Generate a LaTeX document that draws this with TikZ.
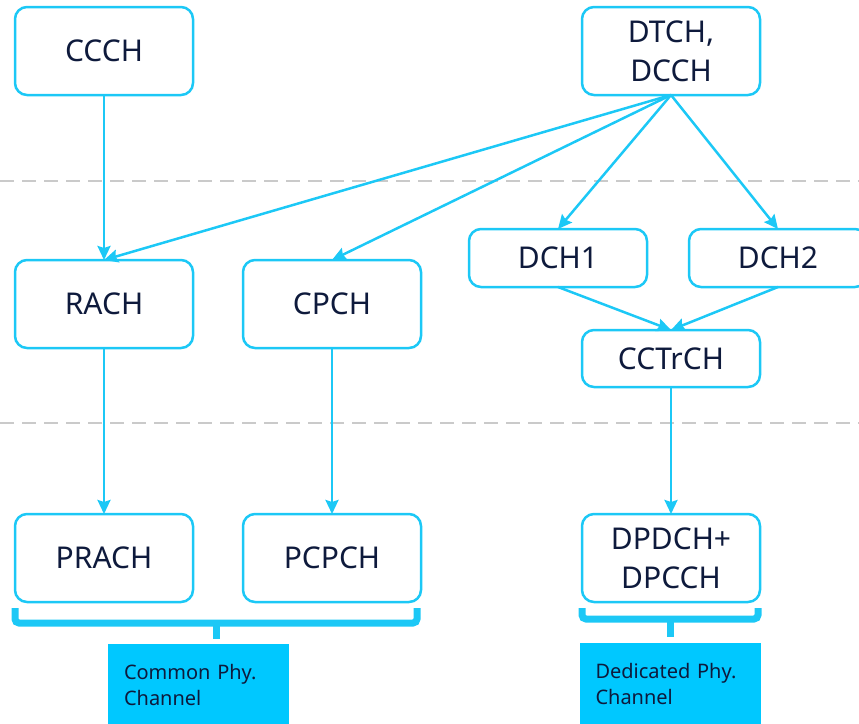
\documentclass[tikz,border=0pt]{standalone}
\usepackage{fontspec}
\setmainfont{Noto Sans}
\usepackage{tikz}
\usetikzlibrary{ arrows.meta, calc, positioning }
\definecolor{chanblue}{HTML}{1CC8F6}
\definecolor{tagblue}{HTML}{00C8FF}
\definecolor{inkblue}{HTML}{0E1A3C}
\definecolor{rulegray}{HTML}{CACACA}
\tikzset{
>={Stealth[length=14pt,width=13pt,inset=2pt]}, % makes the arrow heads bold
chan/.style={draw=chanblue, line width=2.5pt, rounded corners=12pt, minimum width=178pt, minimum height=88pt,
  outer sep=0pt, text=inkblue, font=\fontsize{30}{39}\selectfont, align=center, inner sep=1pt}, % channel boxes
thin chan/.style={chan, minimum height=58pt},
link/.style={->, color=chanblue, line width=2.5pt}, % mapping arrows
bracket/.style={draw=chanblue, line width=7pt, rounded corners=4pt},
tag/.style={fill=tagblue, text=inkblue, font=\fontsize{20}{26}\selectfont, align=left, text width=149pt,
  inner xsep=16pt, inner ysep=0pt, outer sep=0pt, minimum height=82pt}, % legend under the brackets
divider/.style={draw=rulegray, line width=1.5pt, dash pattern=on 14pt off 8pt},
}
\begin{document}
\begin{tikzpicture}[x=1pt,y=1pt]
  \useasboundingbox (0,0) rectangle (859,-723);
  % layer separators
  \draw[divider] (0,-181) -- (859,-181);
  \draw[divider] (0,-423) -- (859,-423);

  \node[chan] (ccch) at (104,-51) {CCCH};
  \node[chan, right=389pt of ccch] (dtch) {DTCH,\\DCCH};
  \node[chan, below=165pt of ccch] (rach) {RACH};
  \node[chan, right=50pt of rach] (cpch) {CPCH};
  \node[chan, below=166pt of rach] (prach) {PRACH};
  \node[chan, right=50pt of prach] (pcpch) {PCPCH};
  \node[thin chan, below=134pt of dtch, xshift=-113pt] (dch1) {DCH1};
  \node[thin chan, right=42pt of dch1] (dch2) {DCH2};
  \node[thin chan, minimum height=57pt, below=235pt of dtch] (cctrch) {CCTrCH};
  \node[chan, below=127pt of cctrch] (dpdch) {DPDCH+\\DPCCH};

  \path[link]
  (ccch) edge (rach)
  (dtch.south) edge (rach.north)
  (dtch.south) edge (cpch.north)
  (dtch.south) edge (dch1.north)
  (dtch.south) edge (dch2.north)
  (dch1.south) edge (cctrch.north)
  (dch2.south) edge (cctrch.north)
  (rach) edge (prach)
  (cpch) edge (pcpch)
  (cctrch) edge (dpdch);

  % brackets grouping the physical channels
  \draw[bracket] ([yshift=-6pt]prach.south west) -- ++(0,-15) coordinate (comleft)
    -| ([xshift=-4pt,yshift=-6pt]pcpch.south east) coordinate (comright);
  \coordinate (comtick) at ($(comleft)!0.5!(comright |- comleft)$);
  \draw[bracket, rounded corners=0pt] (comtick) -- ++(0,-16) coordinate (comend);
  \draw[bracket] ([yshift=-6pt]dpdch.south west) -- ++(0,-11) coordinate (dedleft)
    -| ([xshift=-2pt,yshift=-6pt]dpdch.south east) coordinate (dedright);
  \coordinate (dedtick) at ($(dedleft)!0.5!(dedright |- dedleft)$);
  \draw[bracket, rounded corners=0pt] (dedtick) -- ++(0,-18) coordinate (dedend);

  \node[tag, below=5pt of comend, xshift=-17.5pt] (common) {Common Phy.\\Channel};
  \node[tag, below=6pt of dedend] (dedicated) {Dedicated Phy.\\Channel};
\end{tikzpicture}
\end{document}
